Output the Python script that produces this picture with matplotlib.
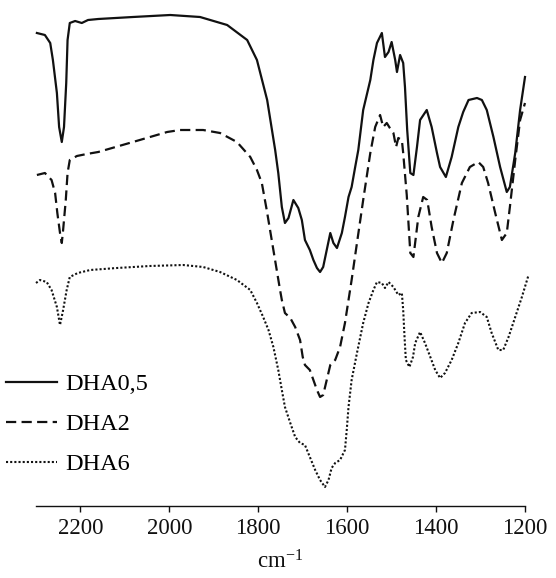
import matplotlib
matplotlib.use("Agg")
import matplotlib.pyplot as plt

plt.rcParams['font.family'] = ['Liberation Serif', 'DejaVu Serif']
plt.rcParams['mathtext.fontset'] = 'custom'
plt.rcParams['mathtext.rm'] = 'Liberation Serif'
plt.rcParams['mathtext.it'] = 'Liberation Serif:italic'

# FTIR spectra, wavenumber (cm-1) vs. transmittance (arbitrary units, offset)
dha05_wn = [2298, 2280, 2268, 2262, 2253, 2248, 2242, 2237, 2232, 2229, 2224, 2212,
            2197, 2183, 2160, 2082, 1998, 1931, 1870, 1825, 1803, 1780, 1762, 1755,
            1747, 1740, 1732, 1721, 1710, 1702, 1695, 1684, 1676, 1668, 1661, 1654,
            1646, 1638, 1631, 1623, 1612, 1605, 1597, 1590, 1582, 1575, 1564, 1548,
            1541, 1533, 1522, 1515, 1507, 1500, 1492, 1488, 1481, 1474, 1470, 1465,
            1458, 1451, 1443, 1436, 1421, 1410, 1398, 1391, 1378, 1365, 1350, 1339,
            1327, 1308, 1297, 1286, 1271, 1256, 1241, 1234, 1222, 1211, 1200]
dha05_t = [473, 471, 463, 446, 413, 379, 364, 379, 423, 466, 483, 485,
           483, 486, 487, 489, 491, 489, 481, 466, 446, 406, 356, 333,
           299, 283, 288, 306, 298, 286, 266, 256, 246, 238, 234, 239,
           256, 273, 263, 258, 273, 289, 309, 319, 339, 356, 396, 426,
           446, 463, 473, 449, 454, 464, 446, 434, 451, 443, 419, 376,
           333, 331, 359, 386, 396, 379, 353, 339, 329, 349, 379, 394,
           406, 408, 406, 396, 369, 339, 314, 319, 353, 396, 429]

dha2_wn = [2298, 2280, 2265, 2257, 2252, 2246, 2242, 2239, 2233, 2229, 2224, 2208,
           2186, 2160, 2082, 2005, 1976, 1924, 1886, 1848, 1818, 1803, 1792, 1781,
           1766, 1751, 1747, 1740, 1728, 1717, 1706, 1700, 1695, 1684, 1676, 1668,
           1661, 1654, 1646, 1638, 1627, 1616, 1605, 1597, 1590, 1578, 1564, 1548,
           1537, 1526, 1519, 1511, 1504, 1496, 1490, 1485, 1477, 1474, 1466, 1458,
           1451, 1440, 1429, 1420, 1410, 1398, 1387, 1376, 1361, 1342, 1324, 1305,
           1294, 1283, 1267, 1252, 1241, 1234, 1222, 1211, 1200]
dha2_t = [331, 333, 326, 313, 293, 273, 263, 276, 306, 333, 346, 350,
          352, 354, 364, 374, 376, 376, 373, 364, 349, 336, 323, 296,
          256, 216, 206, 193, 188, 179, 166, 149, 141, 136, 126, 116,
          109, 111, 126, 141, 146, 159, 183, 206, 226, 263, 306, 353,
          379, 391, 379, 383, 378, 373, 359, 368, 366, 353, 311, 253,
          249, 289, 309, 306, 279, 253, 243, 253, 286, 323, 339, 344,
          339, 323, 293, 266, 273, 299, 346, 386, 403]

dha6_wn = [2300, 2291, 2276, 2265, 2253, 2246, 2239, 2231, 2224, 2206, 2178, 2118,
           2044, 1969, 1924, 1886, 1848, 1818, 1803, 1789, 1777, 1766, 1755, 1747,
           1740, 1728, 1717, 1706, 1695, 1684, 1672, 1661, 1650, 1642, 1635, 1627,
           1616, 1605, 1601, 1597, 1590, 1578, 1564, 1552, 1541, 1533, 1522, 1515,
           1507, 1496, 1485, 1477, 1474, 1471, 1468, 1460, 1452, 1447, 1436, 1425,
           1413, 1402, 1391, 1380, 1365, 1350, 1335, 1320, 1301, 1286, 1275, 1260,
           1249, 1237, 1222, 1207, 1192]
dha6_t = [223, 226, 224, 216, 199, 181, 196, 216, 229, 233, 236, 238,
          240, 241, 239, 234, 226, 216, 203, 189, 176, 159, 136, 116,
          99, 83, 69, 63, 61, 49, 36, 26, 19, 26, 38, 43,
          46, 56, 76, 99, 126, 153, 183, 203, 216, 224, 223, 218,
          224, 219, 211, 213, 196, 169, 146, 139, 149, 163, 174, 163,
          149, 136, 128, 133, 146, 163, 183, 193, 194, 189, 173, 156,
          156, 169, 189, 209, 231]

labels = ['DHA0,5', 'DHA2', 'DHA6']
xticks = [2200, 2000, 1800, 1600, 1400, 1200]

fig = plt.figure(figsize=(5.56, 5.78), dpi=100)
ax = fig.add_axes([36 / 556, 72 / 578, 489 / 556, 506 / 578])

ink = '#111111'
ax.plot(dha05_wn, dha05_t, color=ink, lw=1.6, ls='-', label=labels[0],
        clip_on=False)
ax.plot(dha2_wn, dha2_t, color=ink, lw=1.6, ls=(0, (4.6, 2.4)),
        label=labels[1], clip_on=False)
ax.plot(dha6_wn, dha6_t, color=ink, lw=1.5, ls=(0, (1.0, 1.0)),
        label=labels[2], clip_on=False)

ax.set_xlim(2300, 1200)
ax.set_ylim(0, 506)
ax.set_xticks(xticks)
ax.set_xticklabels([str(v) for v in xticks])
ax.set_yticks([])
for side in ('left', 'right', 'top'):
    ax.spines[side].set_visible(False)
ax.spines['bottom'].set_linewidth(1.0)
ax.spines['bottom'].set_color(ink)
ax.tick_params(axis='x', direction='out', length=4, width=1.0, pad=5,
               labelsize=16.5, colors=ink)
ax.set_xlabel(r'cm$^{-1}$', fontsize=16.5, labelpad=8, color=ink)

ax.legend(loc='upper left', bbox_to_anchor=(6 / 556, 1 - 373 / 578),
          bbox_transform=fig.transFigure, frameon=False, fontsize=17.5,
          handlelength=2.1, handletextpad=0.35, labelspacing=0.75,
          borderpad=0, borderaxespad=0)

fig.savefig('out.png', dpi=100)
